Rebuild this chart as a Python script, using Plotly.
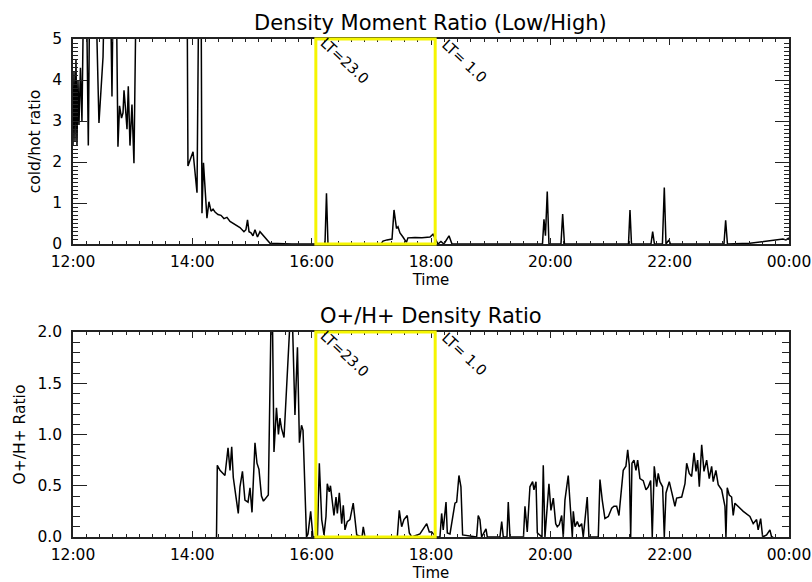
import plotly.graph_objects as go

# ---- data (time in minutes after 12:00) ----
top_t_min = [0, 1.0, 2.0, 3.0, 4.0, 5.0, 6.0, 7.5, 9.0, 11.1, 13.1, 15.4, 17.1, 22.1, 26.1, 30.2,
             32.2, 37.2, 39.2, 40.7, 43.2, 45.2, 46.8, 48.8, 50.3, 51.3, 52.8, 54.3, 55.6, 57.3,
             59.3, 61.3, 63.9, 90.0, 113.6, 114.6, 115.6, 120.7, 124.7, 126.7, 128.7, 129.7, 131.2,
             134.7, 136.7, 138.8, 140.8, 142.8, 145.8, 148.8, 151.8, 154.8, 157.9, 160.9, 163.9,
             167.9, 171.9, 173.9, 175.5, 177.0, 179.0, 181.0, 183.0, 185.5, 188.0, 191.0, 194.0,
             196.1, 198.1, 220.0, 253.4, 254.9, 256.4, 309.7, 311.7, 315.7, 320.8, 322.8, 325.3,
             326.8, 328.8, 331.8, 333.8, 335.3, 336.8, 343.9, 350.9, 359.0, 362.0, 365.0, 367.0,
             370.0, 373.0, 378.1, 381.1, 472.1, 473.6, 475.1, 476.9, 478.6, 490.7, 492.4, 494.2,
             558.6, 560.1, 561.6, 581.2, 582.9, 584.7, 592.7, 594.6, 596.3, 599.3, 600.8, 654.6,
             656.3, 658.1, 680.7, 690.8, 700.8, 708.9, 713.9, 716.9, 720.0]
top_ratio = [2.4, 4.2, 2.5, 4.5, 2.4, 4.0, 2.9, 4.3, 3.0, 7, 7, 2.4, 7, 7, 2.95, 4.56,
             7, 7, 3.6, 7, 7, 2.37, 3.37, 3.07, 3.2, 3.75, 3.3, 2.8, 3.85, 2.4,
             3.4, 1.97, 7, 8, 8, 7, 1.9, 2.25, 1.25, 7, 7, 0.75, 1.98,
             0.63, 1.03, 0.8, 0.85, 0.78, 0.72, 0.7, 0.62, 0.65, 0.55, 0.5, 0.45,
             0.4, 0.3, 0.35, 0.59, 0.3, 0.27, 0.2, 0.35, 0.17, 0.3, 0.22, 0.15,
             0.1, 0.02, 0.0, 0.0, 1.24, 0.0, 0.0, 0.07, 0.1, 0.12, 0.83, 0.38,
             0.42, 0.27, 0.17, 0.1, 0.04, 0.15, 0.16, 0.15, 0.17, 0.24, 0.1, 0.0,
             0.06, 0.0, 0.2, 0.0, 0.0, 0.6, 0.2, 1.28, 0.0, 0.0, 0.73, 0.0,
             0.0, 0.83, 0.0, 0.0, 0.3, 0.0, 0.0, 1.38, 0.0, 0.1, 0.0, 0.0,
             0.58, 0.0, 0.02, 0.05, 0.08, 0.1, 0.12, 0.1, 0.15]

bot_t_min = [144.3, 145.1, 147.8, 150.8, 152.8, 155.9, 157.9, 159.6, 161.2, 162.9, 164.9, 166.2,
             167.9, 170.4, 172.9, 176.0, 178.0, 180.0, 183.0, 185.0, 187.0, 189.5, 191.5, 194.1,
             196.4, 199.1, 200.6, 202.1, 204.6, 206.6, 208.1, 209.7, 212.2, 218.2, 220.7, 223.2,
             225.7, 227.7, 229.8, 231.3, 234.8, 236.3, 239.0, 241.3, 245.8, 247.7, 250.1, 252.4,
             254.4, 255.7, 257.7, 258.9, 260.1, 262.4, 264.5, 265.8, 267.8, 270.2, 271.8, 273.5,
             275.8, 278.5, 281.8, 283.6, 285.3, 290.6, 291.9, 293.6, 326.1, 328.1, 330.5, 332.8,
             336.1, 338.2, 340.6, 348.9, 352.2, 355.7, 358.3, 360.7, 365.0, 369.0, 370.7, 372.3,
             375.1, 376.4, 379.1, 381.8, 384.1, 385.8, 388.1, 390.1, 391.8, 405.9, 407.5, 409.2,
             410.9, 415.3, 416.6, 429.3, 431.1, 432.7, 436.4, 437.7, 439.4, 453.0, 454.5, 456.8,
             459.5, 462.2, 463.5, 465.6, 466.9, 471.6, 472.9, 474.6, 478.6, 480.6, 483.0, 485.4,
             487.0, 489.0, 491.4, 493.0, 494.7, 498.0, 500.4, 502.1, 503.1, 504.8, 507.1, 509.1,
             511.5, 513.1, 517.1, 518.8, 528.2, 529.9, 532.2, 534.9, 538.3, 541.7, 544.0, 546.7,
             549.0, 553.3, 556.0, 557.8, 559.4, 560.8, 562.1, 564.1, 566.1, 567.8, 570.1, 573.4,
             576.2, 578.5, 580.9, 582.5, 584.5, 586.9, 588.5, 590.2, 592.9, 594.6, 596.3, 599.6,
             602.0, 605.3, 607.0, 612.1, 615.4, 617.1, 619.7, 622.1, 624.5, 626.5, 628.1, 629.8,
             632.2, 634.5, 637.2, 639.8, 642.2, 643.8, 646.5, 648.8, 652.3, 655.6, 656.6, 657.9,
             659.9, 662.3, 663.9, 665.6, 674.0, 680.7, 684.0, 687.4, 689.0, 691.5, 693.5, 697.5,
             700.8, 702.5, 704.1]
bot_ratio = [0.0, 0.70, 0.65, 0.62, 0.60, 0.87, 0.65, 0.88, 0.58, 0.46, 0.28, 0.23,
             0.49, 0.64, 0.36, 0.34, 0.48, 0.24, 0.92, 0.72, 0.66, 0.40, 0.35, 0.38,
             0.41, 2.1, 2.1, 0.83, 1.26, 1.0, 1.16, 1.06, 0.97, 2.1, 2.1, 1.19,
             1.85, 0.92, 1.09, 1.04, 0.0, 0.03, 0.25, 0.0, 0.0, 0.72, 0.17, 0.02,
             0.2, 0.52, 0.44, 0.5, 0.41, 0.21, 0.39, 0.23, 0.43, 0.13, 0.31, 0.07,
             0.15, 0.17, 0.33, 0.13, 0.02, 0.0, 0.1, 0.0, 0.0, 0.26, 0.1, 0.17,
             0.21, 0.04, 0.0, 0.03, 0.08, 0.13, 0.05, 0.05, 0.0, 0.0, 0.23, 0.07,
             0.34, 0.04, 0.03, 0.2, 0.33, 0.34, 0.6, 0.49, 0.02, 0.0, 0.21, 0.17,
             0.0, 0.08, 0.0, 0.0, 0.15, 0.0, 0.0, 0.34, 0.0, 0.0, 0.3, 0.05,
             0.49, 0.54, 0.46, 0.54, 0.04, 0.0, 0.70, 0.0, 0.52, 0.26, 0.38, 0.13,
             0.1, 0.12, 0.21, 0.0, 0.36, 0.60, 0.28, 0.0, 0.25, 0.1, 0.15, 0.1,
             0.13, 0.0, 0.39, 0.0, 0.0, 0.56, 0.36, 0.18, 0.2, 0.28, 0.3, 0.3,
             0.21, 0.65, 0.69, 0.85, 0.70, 0.0, 0.72, 0.75, 0.65, 0.75, 0.57, 0.55,
             0.46, 0.49, 0.55, 0.0, 0.69, 0.49, 0.62, 0.54, 0.49, 0.0, 0.43, 0.54,
             0.44, 0.30, 0.38, 0.39, 0.52, 0.72, 0.62, 0.59, 0.82, 0.64, 0.75, 0.49,
             0.90, 0.64, 0.75, 0.57, 0.69, 0.54, 0.65, 0.51, 0.46, 0.30, 0.0, 0.48,
             0.41, 0.39, 0.21, 0.33, 0.25, 0.2, 0.13, 0.17, 0.07, 0.18, 0.0, 0.02,
             0.07, 0.0, 0.0]

x_tick_vals = [12, 14, 16, 18, 20, 22, 24]
x_tick_text = ["12:00", "14:00", "16:00", "18:00", "20:00", "22:00", "00:00"]
top_y_ticks = [0, 1, 2, 3, 4, 5]
bot_y_ticks = [0.0, 0.5, 1.0, 1.5, 2.0]
lt_times = [16.07, 18.07]
lt_labels = ["LT=23.0", "LT= 1.0"]
titles = ["Density Moment Ratio (Low/High)", "O+/H+ Density Ratio"]
y_titles = ["cold/hot ratio", "O+/H+ Ratio"]

to_hours = lambda mins: [12 + m / 60.0 for m in mins]

FONT = "DejaVu Sans"
fig = go.Figure()
fig.add_trace(go.Scatter(x=to_hours(top_t_min), y=top_ratio, mode="lines",
                         line=dict(color="black", width=1.5), xaxis="x", yaxis="y",
                         showlegend=False))
fig.add_trace(go.Scatter(x=to_hours(bot_t_min), y=bot_ratio, mode="lines",
                         line=dict(color="black", width=1.5), xaxis="x2", yaxis="y2",
                         showlegend=False))

xdom = [73 / 812, 789 / 812]
ydom_top = [1 - 244 / 582, 1 - 39 / 582]
ydom_bot = [1 - 537 / 582, 1 - 332 / 582]

x_alias = {str(v): t for v, t in zip(x_tick_vals, x_tick_text)}

common = dict(ticks="inside", tickcolor="#222", showline=True, linecolor="#222", linewidth=1.5,
              mirror="allticks", automargin=False, showgrid=False, zeroline=False,
              tickmode="linear", tickwidth=1.2,
              tickfont=dict(family=FONT, size=15.5, color="black"))

def xaxis(anchor):
    d = dict(common)
    d.update(domain=xdom, anchor=anchor, range=[12, 24], tick0=x_tick_vals[0],
             dtick=x_tick_vals[1] - x_tick_vals[0], labelalias=x_alias, ticklen=6,
             ticklabelstandoff=3,
             minor=dict(ticks="inside", ticklen=3, dtick=2 / 9, tick0=12,
                        tickcolor="#222", showgrid=False),
             title=dict(text="Time", font=dict(family=FONT, size=15, color="black"),
                        standoff=1))
    return d

def yaxis(dom, anchor, rng, ticks, title, fmt, mlen):
    d = dict(common)
    d.update(domain=dom, anchor=anchor, range=rng, tick0=ticks[0], dtick=ticks[1] - ticks[0],
             tickformat=fmt, ticklen=14, ticklabelstandoff=6,
             minor=dict(ticks="inside", ticklen=mlen, dtick=0.1, tick0=0,
                        tickcolor="#222", tickwidth=1, showgrid=False),
             title=dict(text=title, font=dict(family=FONT, size=15.5, color="black"),
                        standoff=8))
    return d

fig.update_layout(
    width=812, height=582,
    margin=dict(l=0, r=0, t=0, b=0),
    paper_bgcolor="white", plot_bgcolor="white",
    xaxis=xaxis("y"),
    xaxis2=xaxis("y2"),
    yaxis=yaxis(ydom_top, "x", [0, 5], top_y_ticks, y_titles[0], "d", 5),
    yaxis2=yaxis(ydom_bot, "x2", [0, 2], bot_y_ticks, y_titles[1], ".1f", 7),
)

for xr, yr in [("x", "y"), ("x2", "y2")]:
    fig.add_shape(type="rect", xref=xr, yref=yr + " domain", x0=lt_times[0], x1=lt_times[1],
                  y0=0, y1=1, line=dict(color="#f5f500", width=3), layer="above")
    for t, lab in zip(lt_times, lt_labels):
        fig.add_annotation(x=t, y=1, xref=xr, yref=yr + " domain", text=lab,
                           showarrow=False, textangle=43, xanchor="center", yanchor="middle",
                           xshift=29, yshift=-22,
                           font=dict(family=FONT, size=14.5, color="black"))

for title, yr in zip(titles, ["y", "y2"]):
    fig.add_annotation(x=0.5, y=1, xref="x domain" if yr == "y" else "x2 domain",
                       yref=yr + " domain", text=title, showarrow=False,
                       xanchor="center", yanchor="bottom", yshift=2,
                       font=dict(family=FONT, size=21, color="black"))

fig.write_html("out.html")
